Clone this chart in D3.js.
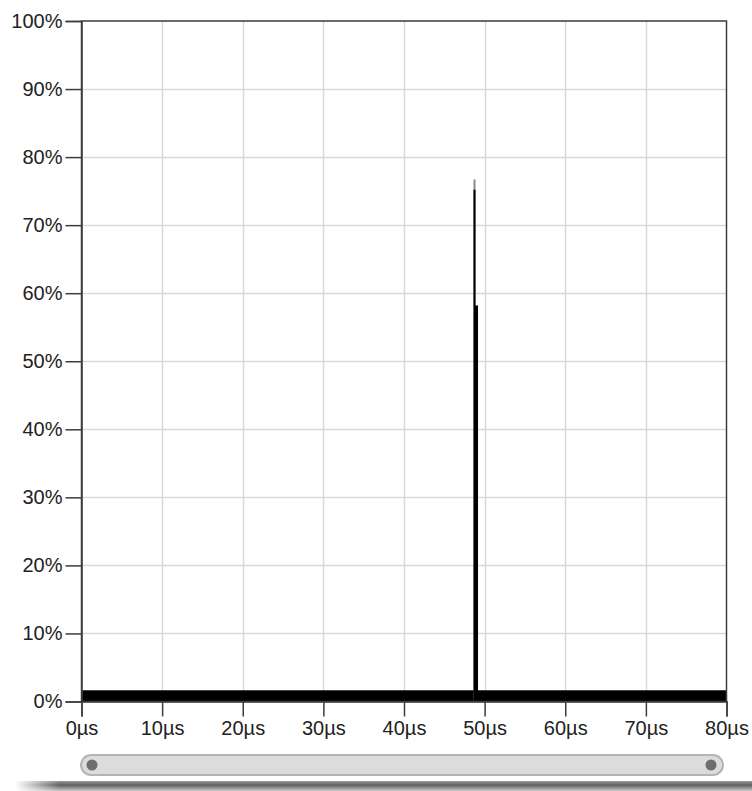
<!DOCTYPE html>
<html><head><meta charset="utf-8">
<script src="https://cdn.jsdelivr.net/npm/d3@7"></script>
<style>
html,body{margin:0;padding:0;background:#fff;}
svg{display:block;}
text{font-family:"Liberation Sans",Arial,sans-serif;}
</style></head>
<body><svg id="c" width="752" height="791"></svg>
<script>
// ---- data ----
const xTickValues = [0, 10, 20, 30, 40, 50, 60, 70, 80];          // µs
const xTickLabels = ["0µs","10µs","20µs","30µs","40µs","50µs","60µs","70µs","80µs"];
const yTickValues = [0, 10, 20, 30, 40, 50, 60, 70, 80, 90, 100]; // %
const yTickLabels = ["0%","10%","20%","30%","40%","50%","60%","70%","80%","90%","100%"];
// histogram bins: start / end in µs, height in percent
const binStart   = [0,    48.62, 48.62, 48.75];
const binEnd     = [80,   48.87, 48.87, 49.18];
const binPercent = [1.65, 76.7,  75.2,  58.2];
const binKind    = ["floor", "tip", "peak", "peak"];

// ---- layout ----
const svg = d3.select("#c");
const L = 81.5, R = 726.5, T = 21, B = 701.5;
const x = d3.scaleLinear().domain([0, 80]).range([L, R]);
const y = d3.scaleLinear().domain([0, 100]).range([B, T]);

// gridlines
const grid = svg.append("g");
grid.selectAll("line.gx").data(xTickValues.slice(1, -1)).join("line")
  .attr("x1", d => Math.round(x(d)) + 0.5).attr("x2", d => Math.round(x(d)) + 0.5)
  .attr("y1", T).attr("y2", B).attr("stroke", "#d9d9d9").attr("stroke-width", 1.5);
grid.selectAll("line.gy").data(yTickValues.slice(1, -1)).join("line")
  .attr("x1", L).attr("x2", R)
  .attr("y1", d => Math.round(y(d)) + 0.5).attr("y2", d => Math.round(y(d)) + 0.5)
  .attr("stroke", "#d9d9d9").attr("stroke-width", 1.5);

// bins
const bins = binStart.map((s, i) => ({s, e: binEnd[i], v: binPercent[i], k: binKind[i]}));
const colorOf = {floor: "#000", tip: "#8a8a8a", peak: "#000"};
svg.append("g").selectAll("rect").data(bins).join("rect")
  .attr("x", d => x(d.s)).attr("width", d => x(d.e) - x(d.s))
  .attr("y", d => y(d.v)).attr("height", d => y(0) - y(d.v))
  .attr("fill", d => colorOf[d.k]);

// frame
svg.append("rect").attr("x", L).attr("y", T).attr("width", R - L).attr("height", B - T)
  .attr("fill", "none").attr("stroke", "#3c3c3c").attr("stroke-width", 1.5);

// axes
const yAxis = d3.axisLeft(y).tickValues(yTickValues)
  .tickFormat((d, i) => yTickLabels[i]).tickSize(16).tickPadding(3);
const gy = svg.append("g").attr("transform", `translate(${L},0)`).call(yAxis);
gy.select(".domain").attr("stroke", "#3c3c3c").attr("stroke-width", 1.5);
gy.selectAll(".tick line").attr("stroke", "#3c3c3c").attr("stroke-width", 1.5);
gy.selectAll(".tick text").attr("font-size", 20).attr("fill", "#222")
  .attr("font-family", "'Liberation Sans', Arial, sans-serif");

const xAxis = d3.axisBottom(x).tickValues(xTickValues)
  .tickFormat((d, i) => xTickLabels[i]).tickSize(15).tickPadding(4);
const gx = svg.append("g").attr("transform", `translate(0,${B})`).call(xAxis);
gx.select(".domain").attr("stroke", "#3c3c3c").attr("stroke-width", 1.5);
gx.selectAll(".tick line").attr("stroke", "#3c3c3c").attr("stroke-width", 1.5);
gx.selectAll(".tick text").attr("font-size", 20).attr("fill", "#222")
  .attr("font-family", "'Liberation Sans', Arial, sans-serif");

// scrollbar
const sb = svg.append("g");
sb.append("rect").attr("x", 81).attr("y", 755).attr("width", 642).attr("height", 20)
  .attr("rx", 10).attr("fill", "#dcdcdc").attr("stroke", "#b4b4b4").attr("stroke-width", 2);
sb.append("circle").attr("cx", 92).attr("cy", 765).attr("r", 5.5).attr("fill", "#6e6e6e");
sb.append("circle").attr("cx", 711).attr("cy", 765).attr("r", 5.5).attr("fill", "#6e6e6e");

// bottom drop shadow
const defs = svg.append("defs");
const gv = defs.append("linearGradient").attr("id", "sh").attr("x1", 0).attr("y1", 0).attr("x2", 0).attr("y2", 1);
gv.append("stop").attr("offset", "0%").attr("stop-color", "#9a9a9a");
gv.append("stop").attr("offset", "40%").attr("stop-color", "#5e5e5e");
gv.append("stop").attr("offset", "100%").attr("stop-color", "#c8c8c8");
const gh = defs.append("linearGradient").attr("id", "shm");
gh.append("stop").attr("offset", "0%").attr("stop-color", "#fff").attr("stop-opacity", 0);
gh.append("stop").attr("offset", "6%").attr("stop-color", "#fff").attr("stop-opacity", 1);
const mask = defs.append("mask").attr("id", "m");
mask.append("rect").attr("x", 15).attr("y", 780).attr("width", 737).attr("height", 11).attr("fill", "url(#shm)");
svg.append("rect").attr("x", 15).attr("y", 781).attr("width", 737).attr("height", 10)
  .attr("fill", "url(#sh)").attr("mask", "url(#m)");
</script></body></html>
